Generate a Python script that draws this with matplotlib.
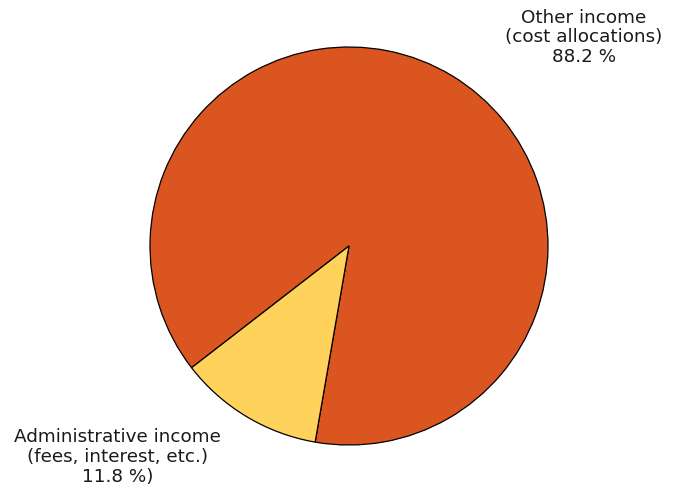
import matplotlib
matplotlib.use("Agg")
import matplotlib.pyplot as plt

# data
labels = ["Other income\n(cost allocations)\n88.2 %",
          "Administrative income\n(fees, interest, etc.)\n11.8 %)"]
values = [88.2, 11.8]
colors = ["#DA5520", "#FFD35B"]

W, H = 675, 495
cx, cy, r = 349, 246, 199

fig = plt.figure(figsize=(W / 100, H / 100), dpi=100)
ax = fig.add_axes([(cx - r) / W, (H - cy - r) / H, 2 * r / W, 2 * r / H])

ax.pie(values, colors=colors, startangle=260.2, counterclock=True,
       radius=1, wedgeprops=dict(edgecolor="black", linewidth=0.9))
ax.set_xlim(-1, 1)
ax.set_ylim(-1, 1)
ax.set_aspect("equal")
ax.axis("off")

# label positions (data coords relative to pie)
label_pos = [(1.181, 1.048), (-1.163, -1.06)]
for txt, (x, y) in zip(labels, label_pos):
    ax.text(x, y, txt, ha="center", va="center", fontsize=13.2,
            color="#1a1a1a", linespacing=1.12, clip_on=False,
            family="DejaVu Sans")

fig.savefig("out.png", dpi=100)
